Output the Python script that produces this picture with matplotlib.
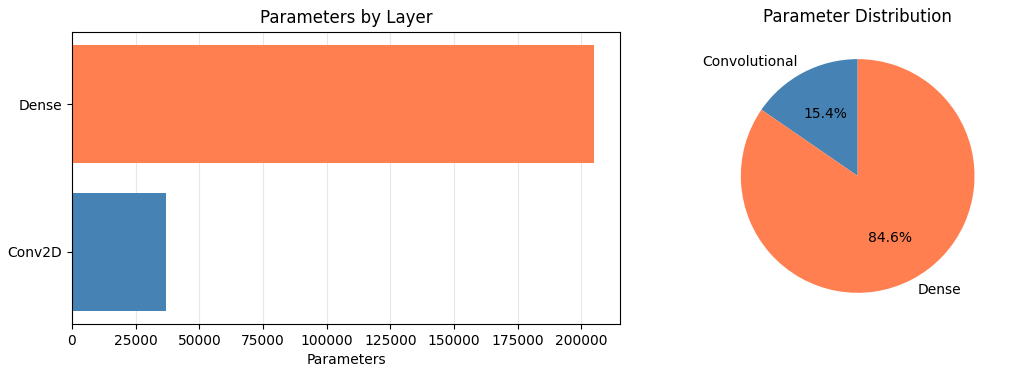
import matplotlib.pyplot as plt

# Parameter counts per layer type
layers = ["Conv2D", "Dense"]
layer_params = [36928, 204928]

# Totals for the pie chart
groups = ["Convolutional", "Dense"]
group_params = [37312, 204928]

colors = ["steelblue", "coral"]

fig = plt.figure(figsize=(10.15, 3.74), dpi=100)
ax1 = fig.add_axes([0.0709, 0.134, 0.540, 0.781])
ax2 = fig.add_axes([0.695, 0.139, 0.30, 0.781])

# Bar chart of parameters per layer
ax1.barh(layers, layer_params, color=colors)
ax1.set_xlabel("Parameters")
ax1.set_title("Parameters by Layer")
ax1.grid(axis="x", alpha=0.3)
ax1.set_axisbelow(True)

# Pie chart of the parameter split
ax2.pie(group_params, labels=groups, colors=colors, autopct="%1.1f%%", startangle=90)
ax2.set_title("Parameter Distribution")

fig.savefig("out.png", dpi=100)
